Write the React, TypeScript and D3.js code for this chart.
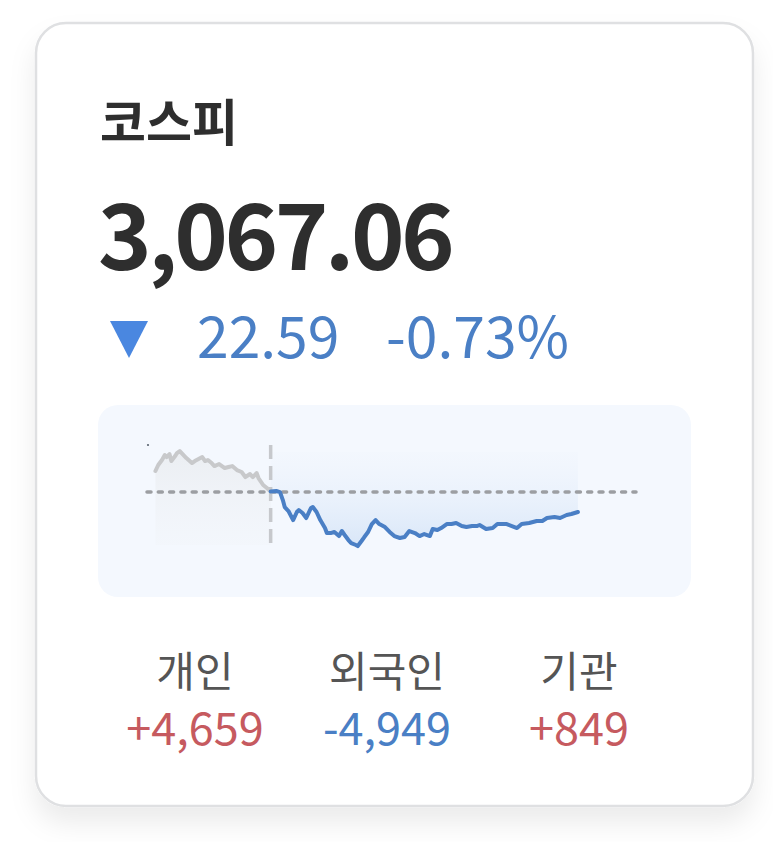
import React from "react";
import * as d3 from "d3";

const title = "코스피";
const indexValue = 3067.06;
const changeValue = 22.59;
const changePct = -0.73;
const prevClose = 3089.65;

// minutes relative to 09:00 for previous session tail (gray) and today (blue)
const preTimes = [-123, -120, -116, -113, -111, -108, -106, -102, -100, -97, -94, -90, -84, -81, -77, -73, -70, -67, -63, -60, -55, -49, -45, -41, -36, -31, -27, -22, -19, -15, -13, -8, -4, 0];
const preValues = [3113.4, 3120.2, 3125.8, 3131.5, 3129.2, 3132.6, 3124.7, 3130.3, 3133.7, 3136.0, 3132.6, 3128.1, 3122.4, 3124.7, 3127.0, 3129.2, 3124.7, 3125.8, 3122.4, 3119.0, 3121.3, 3116.8, 3117.9, 3119.0, 3114.5, 3112.3, 3106.6, 3110.0, 3106.6, 3111.1, 3105.5, 3097.6, 3094.2, 3090.2];

const dayTimes = [0, 6, 10, 13, 15, 19, 24, 28, 30, 34, 38, 43, 45, 49, 53, 58, 60, 64, 68, 73, 76, 79, 83, 86, 91, 93, 97, 100, 104, 108, 112, 116, 122, 127, 132, 138, 143, 148, 154, 159, 164, 170, 173, 178, 182, 188, 193, 198, 204, 209, 215, 220, 223, 230, 237, 242, 252, 263, 268, 276, 284, 290, 295, 303, 309, 316, 321, 328];
const dayValues = [3090.2, 3090.8, 3089.6, 3080.6, 3072.7, 3068.2, 3058.0, 3067.1, 3069.3, 3065.9, 3060.3, 3071.6, 3072.7, 3067.1, 3058.0, 3049.0, 3043.3, 3043.3, 3044.5, 3039.9, 3045.6, 3041.1, 3035.4, 3032.0, 3029.8, 3028.6, 3034.3, 3038.8, 3044.5, 3053.5, 3058.0, 3053.5, 3050.1, 3044.5, 3039.9, 3037.7, 3038.8, 3045.6, 3043.3, 3039.9, 3042.2, 3039.9, 3047.8, 3046.7, 3049.0, 3053.5, 3053.5, 3054.6, 3051.2, 3050.1, 3051.2, 3051.2, 3052.4, 3047.8, 3049.0, 3053.5, 3053.5, 3049.0, 3053.5, 3054.6, 3056.9, 3056.9, 3060.3, 3061.4, 3060.3, 3063.7, 3064.8, 3067.06];

const investorLabels = ["개인", "외국인", "기관"];
const investorValues = [4659, -4949, 849];

const xDomain = [-132, 390];
const yDomain = [3029.8, 3134.9];

const BLUE = "#4a7fc5";
const RED = "#c65a5f";
const FONT = "'Noto Sans CJK KR', 'Noto Sans', sans-serif";

export default function App() {
  const W = 773, H = 842;
  const x = d3.scaleLinear().domain(xDomain).range([147, 636]);
  const y = d3.scaleLinear().domain(yDomain).range([545, 452]);

  const pre = preTimes.map((t, i) => ({ t, v: preValues[i] }));
  const day = dayTimes.map((t, i) => ({ t, v: dayValues[i] }));

  const line = d3.line<{ t: number; v: number }>().x(d => x(d.t)).y(d => y(d.v));
  const preArea = d3.area<{ t: number; v: number }>().x(d => x(d.t)).y0(y(yDomain[0])).y1(d => y(d.v));
  const dayArea = d3.area<{ t: number; v: number }>().x(d => x(d.t)).y0(y(yDomain[1])).y1(d => y(d.v));

  const fmt = d3.format(",");
  const invX = d3.scalePoint().domain(investorLabels).range([195, 579]);

  const triX = 129, triTop = 321, triBot = 358;

  return (
    <svg width={W} height={H} style={{ position: "absolute", left: 0, top: 0, background: "#fff" }} fontFamily={FONT}>
      <defs>
        <filter id="sh" x="-10%" y="-10%" width="120%" height="130%">
          <feDropShadow dx="0" dy="16" stdDeviation="13" floodColor="#000" floodOpacity="0.08" />
        </filter>
        <linearGradient id="blueGrad" x1="0" y1="0" x2="0" y2="1">
          <stop offset="0" stopColor="#edf3fc" stopOpacity="0.2" />
          <stop offset="1" stopColor="#d8e6f8" stopOpacity="1" />
        </linearGradient>
        <linearGradient id="grayGrad" x1="0" y1="0" x2="0" y2="1">
          <stop offset="0" stopColor="#ebeef2" stopOpacity="1" />
          <stop offset="1" stopColor="#f0f3f7" stopOpacity="0.3" />
        </linearGradient>
      </defs>

      <rect x={36} y={23} width={717} height={783} rx={30} fill="#fff" stroke="#dfe0e2" strokeWidth={2.5} filter="url(#sh)" />

      <text x={100} y={141} fontSize={50} fontWeight={700} fill="#2e2e2e">{title}</text>
      <text x={98} y={270} fontSize={91} fontWeight={700} letterSpacing={-3.5} fill="#2e2e2e">{d3.format(",.2f")(indexValue)}</text>

      <path d={`M${triX - 19},${triTop}L${triX + 19},${triTop}L${triX},${triBot}Z`} fill="#4a87e0" />
      <text x={197} y={358} fontSize={57} fill={BLUE}>{changeValue.toFixed(2)}</text>
      <text x={386} y={358} fontSize={57} fill={BLUE}>{changePct.toFixed(2)}%</text>

      <rect x={98} y={405} width={593} height={192} rx={20} fill="#f4f8fe" />

      <path d={preArea(pre) || ""} fill="url(#grayGrad)" />
      <path d={dayArea(day) || ""} fill="url(#blueGrad)" />

      <line x1={x(xDomain[0])} x2={x(xDomain[1])} y1={y(prevClose)} y2={y(prevClose)} stroke="#9c9ea2" strokeWidth={3.5} strokeDasharray="4 7.3" strokeLinecap="round" />
      <line x1={x(0)} x2={x(0)} y1={445} y2={548} stroke="#c6c8cc" strokeWidth={3.5} strokeDasharray="14 7" />
      <circle cx={148} cy={445} r={1.1} fill="#5a6470" />

      <path d={line(pre) || ""} fill="none" stroke="#c8c9cb" strokeWidth={4} strokeLinejoin="round" strokeLinecap="round" />
      <path d={line(day) || ""} fill="none" stroke={BLUE} strokeWidth={4} strokeLinejoin="round" strokeLinecap="round" />

      {investorLabels.map((lab, i) => (
        <g key={lab}>
          <text x={invX(lab)} y={687} textAnchor="middle" fontSize={42} fill="#555">{lab}</text>
          <text x={invX(lab)} y={745} textAnchor="middle" fontSize={45} fill={investorValues[i] >= 0 ? RED : BLUE}>
            {(investorValues[i] >= 0 ? "+" : "-") + fmt(Math.abs(investorValues[i]))}
          </text>
        </g>
      ))}
    </svg>
  );
}
